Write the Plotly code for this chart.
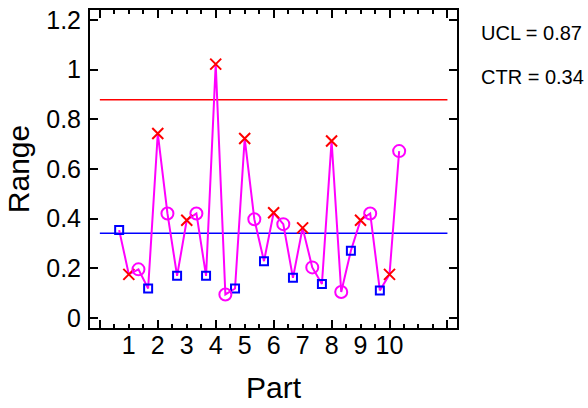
import plotly.graph_objects as go

parts = [1, 2, 3, 4, 5, 6, 7, 8, 9, 10]
part_labels = ["1", "2", "3", "4", "5", "6", "7", "8", "9", "10"]
op_a = [0.354, 0.119, 0.170, 0.170, 0.119, 0.229, 0.162, 0.137, 0.271, 0.111]   # squares
op_b = [0.176, 0.743, 0.394, 1.022, 0.723, 0.424, 0.363, 0.713, 0.394, 0.176]   # crosses
op_c = [0.196, 0.421, 0.421, 0.095, 0.398, 0.378, 0.204, 0.105, 0.421, 0.672]   # circles
ucl = 0.879
ctr = 0.3416
ucl_label = "UCL = 0.87"
ctr_label = "CTR = 0.34"
y_ticks = [0, 0.2, 0.4, 0.6, 0.8, 1.0, 1.2]
y_labels = ["0", "0.2", "0.4", "0.6", "0.8", "1", "1.2"]

offsets = [-1/3, 0, 1/3]
xa = [p + offsets[0] for p in parts]
xb = [p + offsets[1] for p in parts]
xc = [p + offsets[2] for p in parts]

line_x, line_y = [], []
for i in range(len(parts)):
    line_x += [xa[i], xb[i], xc[i]]
    line_y += [op_a[i], op_b[i], op_c[i]]

FONT = "Liberation Sans, Arial, sans-serif"
fig = go.Figure()
fig.add_trace(go.Scatter(x=[0, 12], y=[ucl, ucl], mode="lines",
                         line=dict(color="#FF0000", width=1.5), showlegend=False))
fig.add_trace(go.Scatter(x=[0, 12], y=[ctr, ctr], mode="lines",
                         line=dict(color="#0000FF", width=1.5), showlegend=False))
fig.add_trace(go.Scatter(x=line_x, y=line_y, mode="lines",
                         line=dict(color="#FF00FF", width=2), showlegend=False))
fig.add_trace(go.Scatter(x=xa, y=op_a, mode="markers",
                         marker=dict(symbol="square-open", size=8, color="#0000FF",
                                     line=dict(width=2, color="#0000FF")), showlegend=False))
fig.add_trace(go.Scatter(x=xb, y=op_b, mode="markers",
                         marker=dict(symbol="x-thin-open", size=11, color="#FF0000",
                                     line=dict(width=2, color="#FF0000")), showlegend=False))
fig.add_trace(go.Scatter(x=xc, y=op_c, mode="markers",
                         marker=dict(symbol="circle-open", size=12, color="#FF00FF",
                                     line=dict(width=2, color="#FF00FF")), showlegend=False))
fig.add_trace(go.Scatter(x=[None], y=[None], xaxis="x2", showlegend=False))

xr = [-0.34, 12.33]
fig.update_layout(
    width=588, height=408,
    margin=dict(l=90, r=131, t=10, b=80, autoexpand=False),
    paper_bgcolor="white", plot_bgcolor="white",
    font=dict(family=FONT, color="black", size=25),
    xaxis=dict(range=xr, showgrid=False, zeroline=False, automargin=False,
               showline=True, linecolor="black", linewidth=2, mirror="ticks",
               tickmode="linear", tick0=0, dtick=2, ticks="inside", ticklen=8,
               tickwidth=2, tickcolor="black", showticklabels=False,
               minor=dict(dtick=0.5, tick0=0, ticks="inside", ticklen=4,
                          tickwidth=2, tickcolor="black", showgrid=False)),
    xaxis2=dict(range=xr, overlaying="x", matches="x", side="bottom", automargin=False,
                showgrid=False, zeroline=False, showline=False,
                tickmode="array", tickvals=parts, ticktext=part_labels,
                ticks="", tickfont=dict(size=25, family=FONT), ticklabelstandoff=0,
                title=dict(text="Part", font=dict(size=30, family=FONT), standoff=18)),
    yaxis=dict(range=[-0.04, 1.24], showgrid=False, zeroline=False, automargin=False,
               showline=True, linecolor="black", linewidth=2, mirror="ticks",
               tickmode="array", tickvals=y_ticks, ticktext=y_labels,
               ticks="inside", ticklen=8, tickwidth=2, tickcolor="black",
               tickfont=dict(size=25, family=FONT), ticklabelstandoff=2,
               title=dict(text="Range", font=dict(size=30, family=FONT), standoff=8)),
)

fig.add_annotation(text=ucl_label, xref="paper", yref="paper", x=1, y=1 - (33 - 10) / 318,
                   xshift=22, xanchor="left", yanchor="middle", showarrow=False,
                   font=dict(size=20, family=FONT))
fig.add_annotation(text=ctr_label, xref="paper", yref="paper", x=1, y=1 - (77 - 10) / 318,
                   xshift=22, xanchor="left", yanchor="middle", showarrow=False,
                   font=dict(size=20, family=FONT))

fig.write_html("out.html", config={"displayModeBar": False},
               post_script="document.body.style.margin='0';document.body.style.overflow='hidden';")
